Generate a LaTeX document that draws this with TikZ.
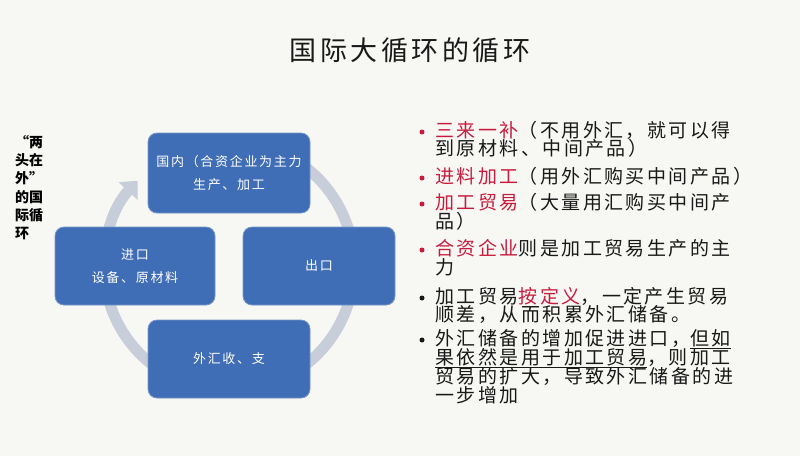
\documentclass[tikz,border=0pt]{standalone}
\usepackage{fontspec}
\usetikzlibrary{arrows.meta}
\newfontfamily\cjk{Noto Sans CJK SC}
\newfontfamily\cjksp[LetterSpace=13]{Noto Sans CJK SC}
\definecolor{bg}{RGB}{247,247,243}
\definecolor{boxblue}{RGB}{64,110,182}
\definecolor{boxedge}{RGB}{120,150,200}
\definecolor{ringc}{RGB}{200,205,218}
\definecolor{hl}{RGB}{200,28,62}
\definecolor{txt}{RGB}{25,25,25}
\newcommand\boxfont{\cjksp\fontsize{13pt}{23pt}\selectfont}
\newcommand\bodyfont{\cjksp\fontsize{19pt}{23pt}\selectfont}
\newcommand\titlefont{\cjksp\fontsize{27pt}{30pt}\selectfont}
\newcommand\sidefont{\cjk\bfseries\fontsize{14pt}{18.3pt}\selectfont}
\tikzset{
  box/.style={rounded corners=9pt, fill=boxblue, draw=boxedge, line width=0.8pt,
    text=white, font=\boxfont, align=center, inner sep=0pt},
  txtline/.style={anchor=west, inner sep=0pt, font=\bodyfont, text=txt,
    text height=15pt, text depth=4pt},
  bdot/.style={circle, inner sep=0pt, minimum size=5pt},
  ring/.style={draw=ringc, line width=11pt, -{Triangle[width=25pt,length=14pt]}},
}
\begin{document}
\begin{tikzpicture}[x=1pt,y=-1pt]
\useasboundingbox (0,0) rectangle (800,456);
\fill[bg] (0,0) rectangle (800,456);

% title
\node[font=\titlefont, text=txt, inner sep=0pt] (title) at (410,50) {国际大循环的循环};

% side label
\node[font=\sidefont, text=black, align=left, anchor=north west, inner sep=0pt] (side) at (15,135)
  {“两\\头在\\外”\\的国\\际循\\环};

% ring arrow
\draw[ring] (229,266) ++(-100:125) arc[start angle=-100, end angle=223, radius=125];

% boxes
\node[box, minimum width=162pt, minimum height=80pt] (top) at (229,173) {国内（合资企业为主力\\生产、加工};
\node[box, minimum width=160pt, minimum height=78pt] (left) at (135,266) {进口\\设备、原材料};
\node[box, minimum width=152pt, minimum height=78pt] (right) at (319,266) {出口};
\node[box, minimum width=162pt, minimum height=78pt] (bottom) at (229,359) {外汇收、支};

% bullets
\node[bdot, fill=hl] (d1) at (422,132) {};
\node[txtline] (l1) at (435,132) {{\color{hl}三来一补}（不用外汇，就可以得};
\node[txtline] (l2) at (435,150) {到原材料、中间产品）};
\node[bdot, fill=hl] (d2) at (422,178) {};
\node[txtline] (l3) at (435,178) {{\color{hl}进料加工}（用外汇购买中间产品）};
\node[bdot, fill=hl] (d3) at (422,204) {};
\node[txtline] (l4) at (435,204) {{\color{hl}加工贸易}（大量用汇购买中间产};
\node[txtline] (l5) at (435,223) {品）};
\node[bdot, fill=hl] (d4) at (422,250) {};
\node[txtline] (l6) at (435,250) {{\color{hl}合资企业}则是加工贸易生产的主};
\node[txtline] (l7) at (435,269) {力};
\node[bdot, fill=txt] (d5) at (422,298) {};
\node[txtline] (l8) at (435,298) {加工贸易{\color{hl}按定义}，一定产生贸易};
\node[txtline] (l9) at (435,316) {顺差，从而积累外汇储备。};
\node[bdot, fill=txt] (d6) at (422,340) {};
\node[txtline] (l10) at (435,340) {外汇储备的增加促进进口，\underline{但如}};
\node[txtline] (l11) at (435,359) {\underline{果依然是用于加工贸易}，则加工};
\node[txtline] (l12) at (435,378) {贸易的扩大，导致外汇储备的进};
\node[txtline] (l13) at (435,397) {一步增加};
\end{tikzpicture}
\end{document}
